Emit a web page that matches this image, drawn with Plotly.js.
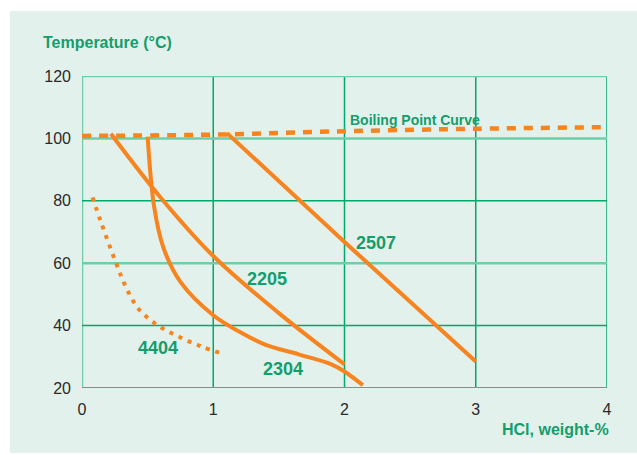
<!DOCTYPE html>
<html>
<head>
<meta charset="utf-8">
<script src="https://cdn.plot.ly/plotly-3.0.1.min.js"></script>
<style>
html,body{margin:0;padding:0;background:#ffffff;width:637px;height:455px;overflow:hidden;}
#chart{position:absolute;left:10px;top:11px;width:627px;height:442px;}
</style>
</head>
<body>
<div id="chart"></div>
<script>
// HCl concentration (weight-%) vs temperature (°C)
const boilX = [0, 1, 2, 3, 4];
const boilY = [100.8, 101.2, 102.3, 103.1, 103.6];

const g4404X = [0.08, 0.14, 0.26, 0.33, 0.43, 0.58, 0.75, 0.915, 1.08];
const g4404Y = [81.1, 73.7, 60.0, 52.8, 45.4, 40.0, 36.2, 33.2, 30.9];

const g2205X = [0.22, 0.6, 1.0, 1.5, 2.0];
const g2205Y = [101.5, 81.0, 62.3, 44.0, 27.6];

const g2304X = [0.50, 0.55, 0.62, 0.75, 1.0, 1.2, 1.4, 1.65, 1.9, 2.0, 2.14];
const g2304Y = [100.6, 78.0, 65.0, 54.0, 43.3, 38.0, 33.8, 30.8, 27.6, 25.3, 20.9];

const g2507X = [1.105, 2.0, 3.0];
const g2507Y = [101.7, 66.8, 28.5];

const xTicks = [0, 1, 2, 3, 4];
const yTicks = [20, 40, 60, 80, 100, 120];

const labelNames = ['2205', '2304', '4404', '2507'];
const labelX = [1.41, 1.53, 0.58, 2.24];
const labelY = [54.9, 26.2, 32.8, 66.4];

const ORANGE = '#f7841f';
const GREEN_TXT = '#139e6c';
const DARK = '#00a86b';
const LIGHT = '#6fcdaa';
const BOTTOM = '#2ebd88';

const traces = [
  {x: boilX, y: boilY, mode: 'lines', line: {color: ORANGE, width: 4.5, dash: '9px,8px', shape: 'spline'}},
  {x: g4404X, y: g4404Y, mode: 'lines', line: {color: ORANGE, width: 4, dash: '4px,6px', shape: 'spline', smoothing: 1}},
  {x: g2205X, y: g2205Y, mode: 'lines', line: {color: ORANGE, width: 4, shape: 'spline', smoothing: 1}},
  {x: g2304X, y: g2304Y, mode: 'lines', line: {color: ORANGE, width: 4, shape: 'spline', smoothing: 1}},
  {x: g2507X, y: g2507Y, mode: 'lines', line: {color: ORANGE, width: 4}}
].map(t => Object.assign(t, {hoverinfo: 'skip', showlegend: false}));

const annotations = labelNames.map((t, i) => ({
  x: labelX[i], y: labelY[i], xref: 'x', yref: 'y', text: t, showarrow: false,
  xanchor: 'center', yanchor: 'middle',
  font: {family: 'Liberation Sans, Arial, sans-serif', size: 18, color: GREEN_TXT, weight: 'bold'}
}));
annotations.push({
  x: 2.03, y: 106.0, xref: 'x', yref: 'y', text: 'Boiling Point Curve', showarrow: false,
  xanchor: 'left', yanchor: 'middle',
  font: {family: 'Liberation Sans, Arial, sans-serif', size: 14, color: GREEN_TXT, weight: 'bold'}
});
annotations.push({
  x: -0.0787, y: 1.1067, xref: 'paper', yref: 'paper', text: 'Temperature (°C)', showarrow: false,
  xanchor: 'left', yanchor: 'middle',
  font: {family: 'Liberation Sans, Arial, sans-serif', size: 16, color: GREEN_TXT, weight: 'bold'}
});
annotations.push({
  x: 1.0076, y: -0.1346, xref: 'paper', yref: 'paper', text: 'HCl, weight-%', showarrow: false,
  xanchor: 'right', yanchor: 'middle',
  font: {family: 'Liberation Sans, Arial, sans-serif', size: 16, color: GREEN_TXT, weight: 'bold'}
});

// grid drawn as shapes so each line can take the reference's own tint
const hGridColor = {20: BOTTOM, 40: DARK, 60: LIGHT, 80: DARK, 100: LIGHT, 120: LIGHT};
const hGridWidth = {20: 2, 40: 1.5, 60: 2.5, 80: 1.5, 100: 2.5, 120: 2.5};
const vGridColor = {0: LIGHT, 1: DARK, 2: DARK, 3: DARK, 4: DARK};
const vGridWidth = {0: 2.5, 1: 1.5, 2: 1.5, 3: 1.5, 4: 1.5};
const shapes = [];
xTicks.forEach(v => shapes.push({type: 'line', xref: 'x', yref: 'paper', x0: v, x1: v, y0: 0, y1: 1, layer: 'below',
  line: {color: vGridColor[v], width: vGridWidth[v]}}));
yTicks.forEach(v => shapes.push({type: 'line', xref: 'paper', yref: 'y', x0: 0, x1: 1, y0: v, y1: v, layer: 'below',
  line: {color: hGridColor[v], width: hGridWidth[v]}}));

const layout = {
  width: 627, height: 442,
  margin: {l: 72, r: 30, t: 65, b: 65},
  paper_bgcolor: '#e3f1ec', plot_bgcolor: 'rgba(0,0,0,0)',
  font: {family: 'Liberation Sans, Arial, sans-serif', size: 16, color: '#2a2a2a'},
  xaxis: {range: [0, 4], tickvals: xTicks, ticktext: xTicks.map(String), showgrid: false,
          zeroline: false, showline: false, ticks: '', ticklabelstandoff: 10, fixedrange: true},
  yaxis: {range: [20, 120], tickvals: yTicks, ticktext: yTicks.map(String), showgrid: false,
          zeroline: false, showline: false, ticks: '', ticklabelstandoff: 10, fixedrange: true},
  shapes: shapes,
  annotations: annotations
};

Plotly.newPlot('chart', traces, layout, {displayModeBar: false, staticPlot: true});
</script>
</body>
</html>
